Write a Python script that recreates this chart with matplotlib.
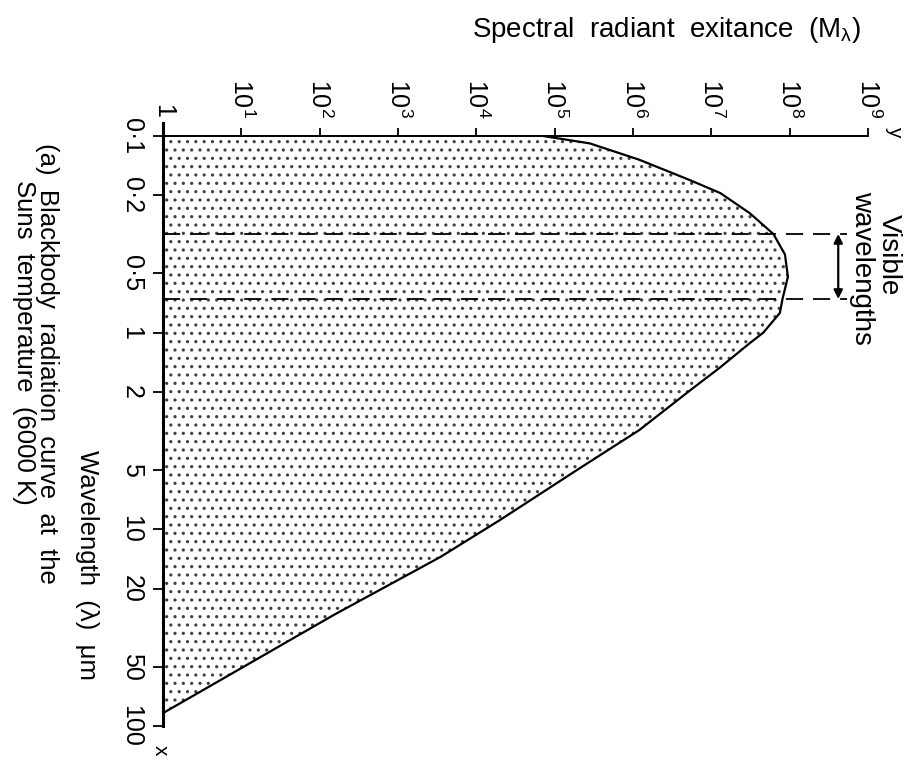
import matplotlib
matplotlib.use("Agg")
import matplotlib.pyplot as plt

plt.rcParams["font.family"] = ["Liberation Sans", "DejaVu Sans"]
plt.rcParams["mathtext.default"] = "regular"
plt.rcParams["hatch.linewidth"] = 1.1

# Blackbody curve at 6000 K (wavelength in micrometres, exitance in arbitrary units)
wavelength_um = [0.1, 0.109, 0.132, 0.168, 0.195, 0.247, 0.315, 0.40, 0.52,
                 0.674, 0.794, 1.00, 1.13, 1.50, 1.96, 3.13, 4.77, 8.97,
                 13.8, 27.3, 86.0]
exitance = [7.1e4, 2.8e5, 1.2e6, 5.4e6, 1.3e7, 3.1e7, 6.2e7, 8.7e7, 9.5e7,
            8.1e7, 7.5e7, 4.6e7, 3.1e7, 1.3e7, 5.4e6, 1.2e6, 2.3e5, 2.0e4,
            3.5e3, 1.5e2, 1.0]

# Visible band limits (micrometres)
visible_um = [0.315, 0.674]

exitance_ticks = [1, 1e1, 1e2, 1e3, 1e4, 1e5, 1e6, 1e7, 1e8, 1e9]
exitance_labels = ["1"] + [f"10$^{{{k}}}$" for k in range(1, 10)]
wavelength_ticks = [0.1, 0.2, 0.5, 1, 2, 5, 10, 20, 50, 100]
wavelength_labels = ["0·1", "0·2", "0·5", "1", "2", "5", "10", "20", "50", "100"]

W, H = 914, 765
fig = plt.figure(figsize=(W / 100, H / 100), dpi=100)
fig.patch.set_facecolor("white")


def fx(px):
    return px / W


def fy(py):
    return 1 - py / H


x0, x1 = 163, 868   # pixel span of the exitance axis
y0, y1 = 136, 726   # pixel span of the wavelength axis
ax = fig.add_axes([fx(x0), fy(y1), (x1 - x0) / W, (y1 - y0) / H])
ax.set_xscale("log")
ax.set_yscale("log")
ax.set_xlim(1, 1e9)
ax.set_ylim(100, 0.1)
ax.set_facecolor("none")

# stippled area under the curve
ax.fill_betweenx(wavelength_um, 1, exitance, facecolor="none",
                 edgecolor="#404040", hatch="..", linewidth=0)
ax.plot(exitance, wavelength_um, color="black", lw=1.6, solid_joinstyle="round")

# visible band
band_end = 10 ** 8.73
for v in visible_um:
    ax.plot([1, band_end], [v, v], color="black", lw=1.3,
            ls=(0, (9.5, 5.5)), clip_on=False)
ax.annotate("", xy=(10 ** 8.62, visible_um[0]), xytext=(10 ** 8.62, visible_um[1]),
            arrowprops=dict(arrowstyle="<|-|>", color="black", lw=1.6,
                            mutation_scale=13, shrinkA=0, shrinkB=0))
fig.text(fx(889), fy(255), "Visible", rotation=-90, ha="center", va="center",
         fontsize=20)
fig.text(fx(862), fy(268), "wavelengths", rotation=-90, ha="center", va="center",
         fontsize=20)

# axes styling
for side in ("right", "bottom"):
    ax.spines[side].set_visible(False)
ax.spines["left"].set_linewidth(2.2)
ax.spines["top"].set_linewidth(1.4)
ax.plot([0, 0], [1, 1 + 13 / (y1 - y0)], transform=ax.transAxes,
        color="black", lw=2.2, clip_on=False)

ax.xaxis.tick_top()
ax.set_xticks(exitance_ticks)
ax.set_xticklabels(exitance_labels, rotation=-90, fontsize=18)
ax.xaxis.set_minor_locator(matplotlib.ticker.NullLocator())
ax.tick_params(axis="x", direction="out", length=6, width=1.3, pad=7)
for lab in ax.get_xticklabels():
    lab.set_ha("center")
    lab.set_va("bottom")

ax.set_yticks(wavelength_ticks)
ax.set_yticklabels(wavelength_labels, rotation=-90, fontsize=18)
ax.yaxis.set_minor_locator(matplotlib.ticker.NullLocator())
ax.tick_params(axis="y", direction="out", length=7, width=1.3, pad=7)
for lab in ax.get_yticklabels():
    lab.set_ha("right")
    lab.set_va("center")

# axis end markers
fig.text(fx(895), fy(131), "y", rotation=-90, ha="center", va="center",
         fontsize=15)
fig.text(fx(160), fy(750), "x", rotation=-90, ha="center", va="center",
         fontsize=15)

# axis titles
fig.text(fx(666), fy(30), "Spectral  radiant  exitance  (M$_{λ}$)",
         ha="center", va="center", fontsize=20)
fig.text(fx(87), fy(565), "Wavelength  (λ)  μm", rotation=-90,
         ha="center", va="center", fontsize=18.5)

# caption
fig.text(fx(47), fy(143), "(a)  Blackbody  radiation  curve  at  the",
         rotation=-90, ha="center", va="top", fontsize=18.5)
fig.text(fx(24), fy(180), "Suns  temperature  (6000 K)",
         rotation=-90, ha="center", va="top", fontsize=18.5)

fig.savefig("out.png", dpi=100, facecolor="white")
